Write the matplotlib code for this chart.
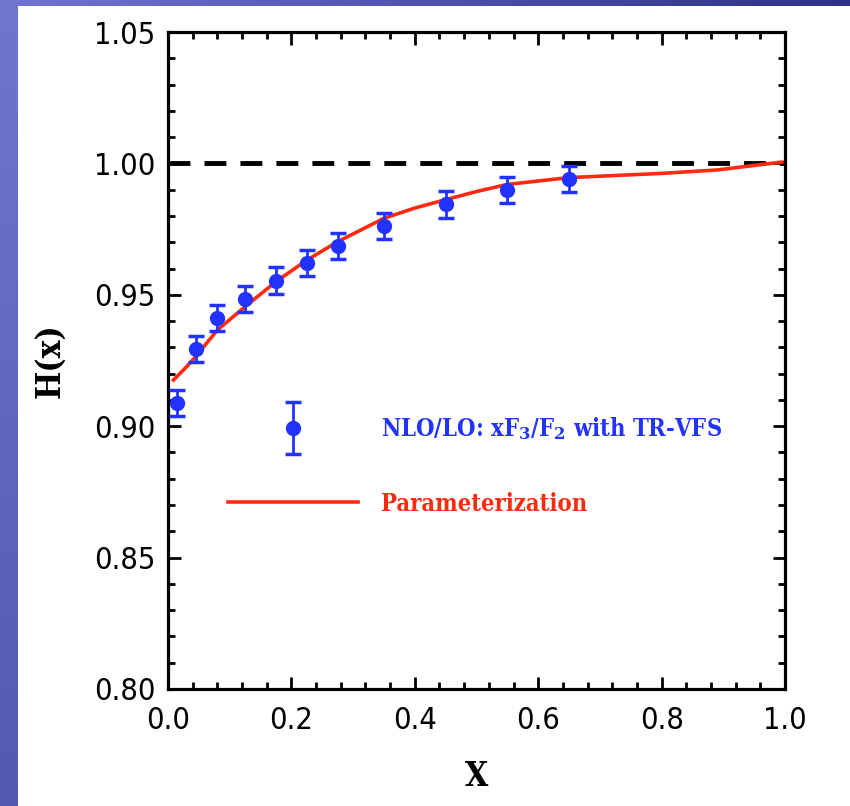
import numpy as np
import matplotlib
matplotlib.use("Agg")
import matplotlib.pyplot as plt
from matplotlib.colors import LinearSegmentedColormap
from matplotlib.container import ErrorbarContainer
from matplotlib.legend_handler import HandlerErrorbar

# data
x_pts = [0.014, 0.045, 0.08, 0.125, 0.175, 0.225, 0.275, 0.35, 0.45, 0.55, 0.65]
h_pts = [0.9087, 0.9293, 0.9411, 0.9484, 0.9554, 0.9622, 0.9686, 0.9763, 0.9844, 0.9899, 0.9940]
h_err = [0.005] * len(x_pts)

x_par = [0.009, 0.03, 0.045, 0.08, 0.125, 0.175, 0.225, 0.275, 0.35, 0.40, 0.45, 0.50,
         0.55, 0.65, 0.80, 0.89, 0.995]
h_par = [0.9176, 0.9226, 0.9265, 0.9366, 0.9455, 0.955, 0.9632, 0.9702, 0.9791, 0.9830,
         0.9862, 0.9893, 0.9920, 0.9946, 0.9962, 0.9975, 1.0005]

labels = ["NLO/LO: xF$_\\mathbf{3}$/F$_\\mathbf{2}$ with TR-VFS", "Parameterization"]
label_colors = ["#2233ff", "#ff2a10"]
blue = "#2233ff"
red = "#ff2a10"

plt.rcParams['mathtext.fontset'] = 'dejavuserif'
tick_font = dict(family='DejaVu Sans', stretch='condensed', size=22)
label_font = dict(family='DejaVu Serif', weight='bold', stretch='condensed', size=24)

fig = plt.figure(figsize=(8.5, 8.06), dpi=100)
fig.patch.set_facecolor('white')

# slide background bands
grad = np.linspace(0, 1, 256)
band_cmap = LinearSegmentedColormap.from_list('band', ['#7075d0', '#5458b0'])
top_cmap = LinearSegmentedColormap.from_list('top', ['#7075d0', '#2e3188'])
bl = fig.add_axes([0, 0, 18 / 850, 1])
bl.imshow(grad[:, None], aspect='auto', cmap=band_cmap)
bl.set_axis_off()
bt = fig.add_axes([0, 1 - 6 / 806, 1, 6 / 806])
bt.imshow(grad[None, :], aspect='auto', cmap=top_cmap)
bt.set_axis_off()

ax = fig.add_axes([168 / 850, 1 - 689 / 806, 617 / 850, 657 / 806])

ax.axhline(1.0, color='k', lw=3.5, ls=(0, (4.5, 2.9)), zorder=1)
line, = ax.plot(x_par, h_par, color=red, lw=2.6, zorder=2, label=labels[1])
eb = ax.errorbar(x_pts, h_pts, yerr=h_err, fmt='o', color=blue, ms=10, elinewidth=2,
                 capsize=6, capthick=2.5, zorder=3, label=labels[0])

ax.set_xlim(0, 1.0)
ax.set_ylim(0.80, 1.05)
ax.set_xticks(np.arange(0, 1.01, 0.2))
ax.set_xticks(np.arange(0, 1.001, 0.04), minor=True)
ax.set_yticks(np.arange(0.80, 1.051, 0.05))
ax.set_yticks(np.arange(0.80, 1.051, 0.01), minor=True)
ax.set_xticklabels(["%.1f" % v for v in np.arange(0, 1.01, 0.2)], fontdict=tick_font)
ax.set_yticklabels(["%.2f" % v for v in np.arange(0.80, 1.051, 0.05)], fontdict=tick_font)

ax.tick_params(which='both', direction='in', top=True, right=True, width=2, colors='k')
ax.tick_params(which='major', length=9)
ax.tick_params(which='minor', length=5)
ax.tick_params(axis='x', pad=12)
ax.tick_params(axis='y', pad=9)
for sp in ax.spines.values():
    sp.set_linewidth(2.3)

ax.set_xlabel("X", fontdict=label_font)
ax.set_ylabel("H(x)", fontdict=label_font)
ax.xaxis.set_label_coords(0.5, -0.108)
ax.yaxis.set_label_coords(-0.164, 0.5)

leg = ax.legend([eb, line], labels, loc='upper left', bbox_to_anchor=(0.097, 0.417),
                frameon=False, borderpad=0, borderaxespad=0, handlelength=5.5,
                handletextpad=1.0, labelspacing=2.1,
                prop=dict(family='DejaVu Serif', weight='bold', stretch='condensed', size=17),
                handler_map={ErrorbarContainer: HandlerErrorbar(yerr_size=1.1)})
for t, c in zip(leg.get_texts(), label_colors):
    t.set_color(c)

fig.savefig("out.png", dpi=100, facecolor=fig.get_facecolor())
